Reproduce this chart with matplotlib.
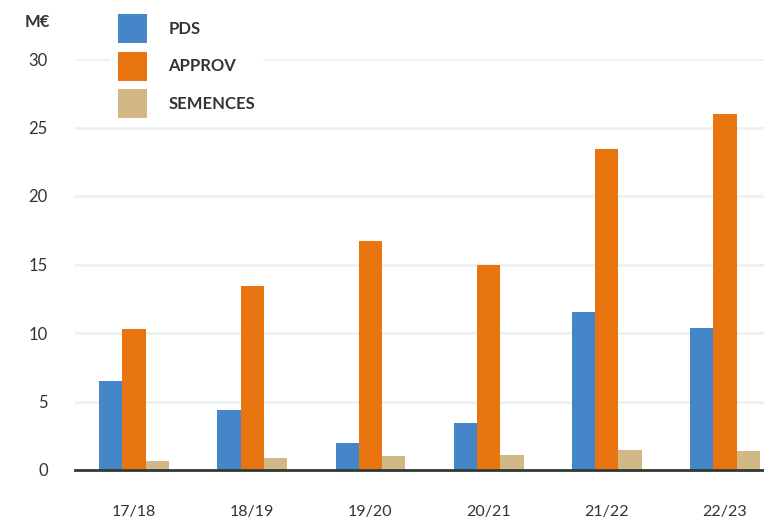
import matplotlib
matplotlib.use("Agg")
import matplotlib.pyplot as plt
import numpy as np

categories = ["17/18", "18/19", "19/20", "20/21", "21/22", "22/23"]
pds = [6.5, 4.4, 2.0, 3.45, 11.5, 10.4]
approv = [10.3, 13.4, 16.7, 15.0, 23.4, 26.0]
semences = [0.65, 0.9, 1.0, 1.1, 1.45, 1.4]
series_names = ["PDS", "APPROV", "SEMENCES"]
colors = ["#4586C8", "#E97510", "#D2B886"]
yticks = [0, 5, 10, 15, 20, 25, 30]

plt.rcParams['font.family'] = ['Lato', 'DejaVu Sans']

fig = plt.figure(figsize=(7.64, 5.22), dpi=100)
ax = fig.add_axes([75/764, 1-470/522, 1-75/764, (470-59)/522])

x = np.arange(len(categories))
w = 0.197
for i, (vals, name, c) in enumerate(zip([pds, approv, semences], series_names, colors)):
    ax.bar(x + (i-1)*w, vals, width=w, color=c, label=name, zorder=3)

ax.set_xlim(-0.5, 5.33)
ax.set_ylim(0, 30)
ax.set_yticks(yticks)
ax.set_xticks(x)
ax.set_xticklabels(categories)
ax.yaxis.grid(True, color="#EEF2EE", linewidth=2, zorder=0)
ax.set_axisbelow(True)
for s in ["top", "right", "left"]:
    ax.spines[s].set_visible(False)
ax.spines["bottom"].set_color("#2F3A33")
ax.spines["bottom"].set_linewidth(2)
ax.spines["bottom"].set_zorder(4)
ax.tick_params(axis="both", length=0, labelcolor="#333333")
ax.tick_params(axis="x", labelsize=11.5, pad=25)
ax.tick_params(axis="y", labelsize=12, pad=19.5)
for lbl in ax.get_yticklabels():
    lbl.set_horizontalalignment("right")

fig.text(37/764, 1-22/522, "M€", fontsize=12, fontweight="bold", color="#333333",
         ha="center", va="center")

leg = ax.legend(loc="upper left", bbox_to_anchor=(110/764, 1-6/522),
                bbox_transform=fig.transFigure, frameon=True, fancybox=False,
                edgecolor="none", facecolor="white", framealpha=1,
                handlelength=1.74, handleheight=2.3, labelspacing=0.5,
                handletextpad=1.26, borderpad=0.5, borderaxespad=0,
                prop={"size": 12, "weight": "bold"})
for t in leg.get_texts():
    t.set_color("#333333")
leg.set_zorder(5)

fig.savefig("out.png", dpi=100)
